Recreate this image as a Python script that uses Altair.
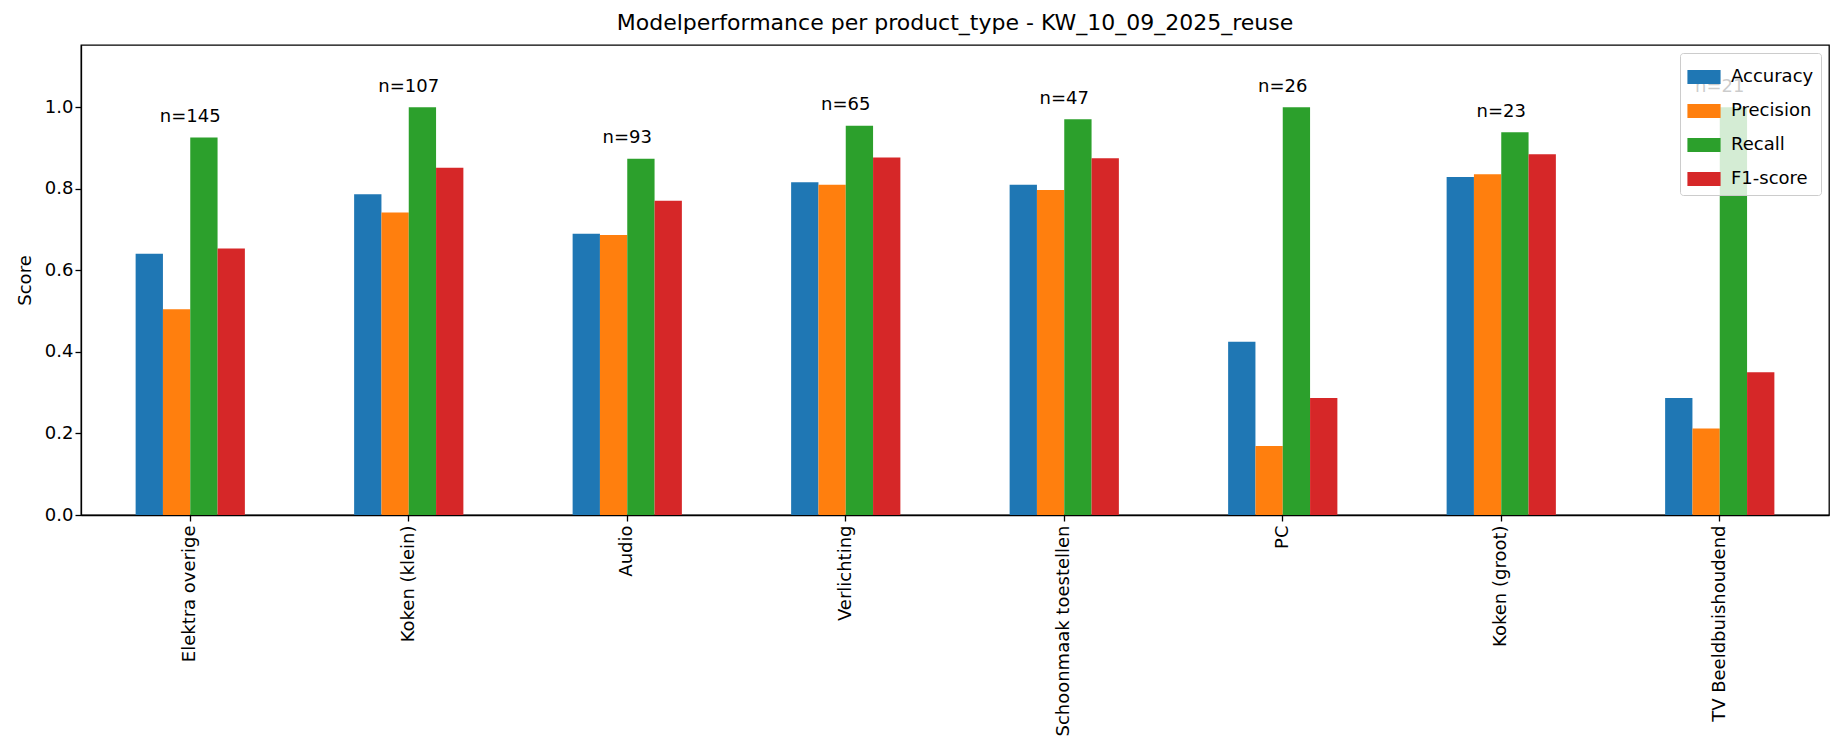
import altair as alt
import pandas as pd

categories = ["Elektra overige", "Koken (klein)", "Audio", "Verlichting",
              "Schoonmaak toestellen", "PC", "Koken (groot)", "TV Beeldbuishoudend"]
counts = [145, 107, 93, 65, 47, 26, 23, 21]
metrics = ["Accuracy", "Precision", "Recall", "F1-score"]
accuracy = [0.641, 0.787, 0.690, 0.816, 0.810, 0.425, 0.829, 0.287]
precision = [0.505, 0.742, 0.687, 0.810, 0.797, 0.169, 0.836, 0.212]
recall = [0.926, 1.000, 0.874, 0.955, 0.971, 1.000, 0.939, 1.000]
f1_score = [0.654, 0.852, 0.771, 0.877, 0.875, 0.287, 0.885, 0.350]
colors = ["#1f77b4", "#ff7f0e", "#2ca02c", "#d62728"]
y_ticks = [0.0, 0.2, 0.4, 0.6, 0.8, 1.0]

series = {"Accuracy": accuracy, "Precision": precision, "Recall": recall, "F1-score": f1_score}
rows = []
for m in metrics:
    for c, v in zip(categories, series[m]):
        rows.append({"category": c, "metric": m, "value": v})
df = pd.DataFrame(rows)

lab = pd.DataFrame({
    "category": categories,
    "label": [f"n={n}" for n in counts],
    "ypos": [max(a, p, r, f) + 0.038 for a, p, r, f in zip(accuracy, precision, recall, f1_score)],
})

FONT = "DejaVu Sans"
ydom = [0, 1.153]

xscale = alt.Scale(domain=categories, paddingInner=0.5, paddingOuter=0.25)

bars = alt.Chart(df).mark_bar().encode(
    x=alt.X("category:N", sort=categories, scale=xscale,
            axis=alt.Axis(title=None, labelAngle=-90, labelFontSize=18, labelColor="black",
                          tickColor="black", domainColor="black", tickSize=6,
                          labelPadding=4, labelFont=FONT, labelLimit=400)),
    xOffset=alt.XOffset("metric:N", sort=metrics,
                        scale=alt.Scale(domain=metrics, paddingInner=0, paddingOuter=0)),
    y=alt.Y("value:Q", scale=alt.Scale(domain=ydom, nice=False, zero=True),
            axis=alt.Axis(title="Score", values=y_ticks, format=".1f", labelFontSize=18,
                          labelColor="black", tickColor="black", domainColor="black",
                          tickSize=6, grid=False, titleFontSize=18, titleFontWeight="normal",
                          titleColor="black", titlePadding=10, labelFont=FONT, titleFont=FONT)),
    color=alt.Color("metric:N", sort=metrics,
                    scale=alt.Scale(domain=metrics, range=colors),
                    legend=alt.Legend(title=None, orient="top-right", offset=8,
                                      labelFontSize=18, labelFont=FONT, labelColor="black",
                                      symbolType="M-1,-0.42h2v0.84h-2z", symbolSize=1100,
                                      symbolStrokeWidth=0, rowPadding=8,
                                      strokeColor="#cccccc", fillColor="rgba(255,255,255,0.8)",
                                      padding=7, cornerRadius=3, labelOffset=10)),
)

texts = alt.Chart(lab).mark_text(fontSize=18, font=FONT, color="black",
                                 baseline="alphabetic", align="center").encode(
    x=alt.X("category:N", sort=categories, scale=xscale),
    y=alt.Y("ypos:Q", scale=alt.Scale(domain=ydom, nice=False)),
    text="label:N",
)

chart = alt.layer(bars, texts).properties(
    width=1748, height=470,
    title=alt.TitleParams("Modelperformance per product_type - KW_10_09_2025_reuse",
                          fontSize=22, font=FONT, fontWeight="normal", color="black",
                          anchor="middle", offset=10),
    padding={"left": 8, "top": 4, "right": 2, "bottom": 2},
).configure_view(stroke="black", strokeWidth=1.3).configure_axis(domainWidth=1.3, tickWidth=1.3)

chart.save("out.html", embed_options={"renderer": "svg", "actions": False})
